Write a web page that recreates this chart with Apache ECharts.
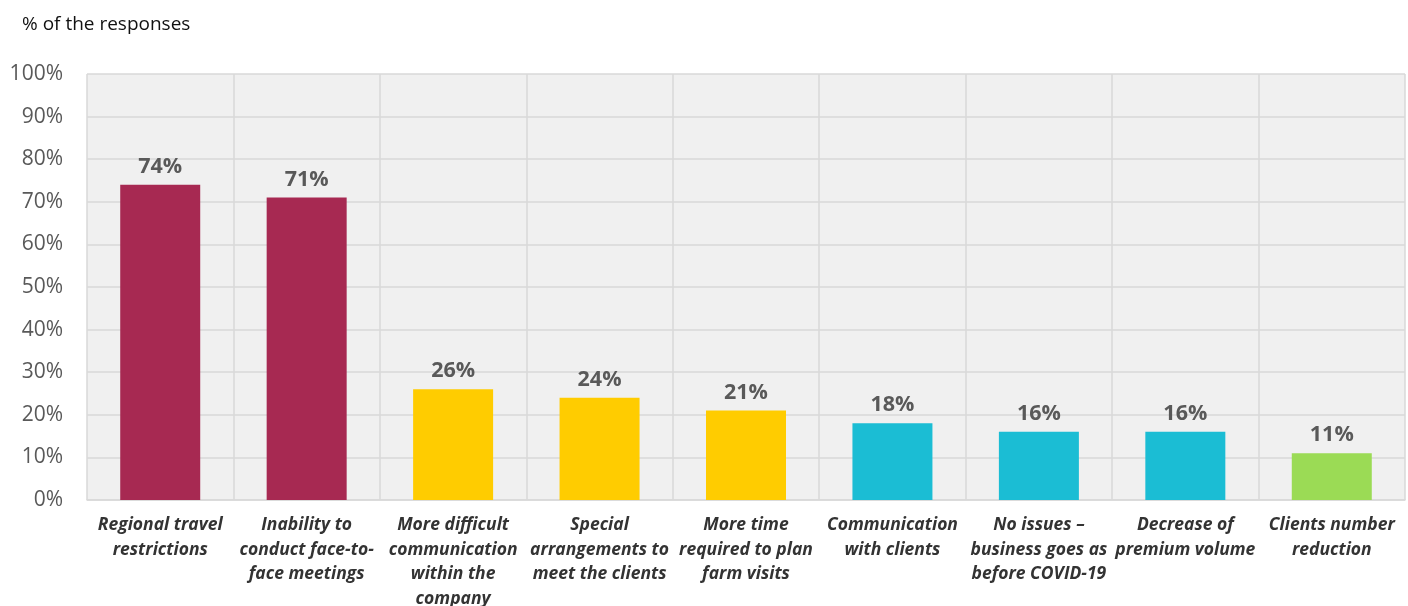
<!DOCTYPE html>
<html>
<head>
<meta charset="utf-8">
<script src="https://cdn.jsdelivr.net/npm/echarts@6/dist/echarts.min.js"></script>
<style>html,body{margin:0;padding:0;background:#fff;}#c{width:1408px;height:606px;}</style>
</head>
<body>
<div id="c"></div>
<script>
const categories = [
  "Regional travel\nrestrictions",
  "Inability to\nconduct face-to-\nface meetings",
  "More difficult\ncommunication\nwithin the\ncompany",
  "Special\narrangements to\nmeet the clients",
  "More time\nrequired to plan\nfarm visits",
  "Communication\nwith clients",
  "No issues –\nbusiness goes as\nbefore COVID-19",
  "Decrease of\npremium volume",
  "Clients number\nreduction"
];
const values = [74, 71, 26, 24, 21, 18, 16, 16, 11];
const barColors = ["#A72952", "#A72952", "#FFCC00", "#FFCC00", "#FFCC00", "#1BBDD4", "#1BBDD4", "#1BBDD4", "#9BDB55"];
const yTicks = [0, 10, 20, 30, 40, 50, 60, 70, 80, 90, 100];

const chart = echarts.init(document.getElementById('c'));
chart.setOption({
  animation: false,
  backgroundColor: '#fff',
  title: {
    text: '% of the responses',
    left: 17, top: 10,
    textStyle: { fontFamily: 'Open Sans', fontSize: 19, fontWeight: 'normal', color: '#111' }
  },
  grid: {
    left: 87, right: 3, top: 74, bottom: 106,
    outerBoundsMode: 'none', containLabel: false,
    show: true, backgroundColor: '#f0f0f0', borderWidth: 0
  },
  xAxis: {
    type: 'category',
    data: categories,
    axisTick: { show: false },
    axisLine: { show: true, lineStyle: { color: '#d9d9d9', width: 1.5 } },
    splitLine: { show: true, lineStyle: { color: '#d9d9d9', width: 1.5 } },
    axisLabel: {
      interval: 0, margin: 13,
      fontFamily: 'Open Sans', fontSize: 17.5, fontWeight: 'bold', fontStyle: 'italic',
      color: '#333', lineHeight: 24.5
    }
  },
  yAxis: {
    type: 'value', min: 0, max: 100, interval: 10,
    axisLine: { show: false }, axisTick: { show: false },
    splitLine: { show: true, lineStyle: { color: '#d9d9d9', width: 1.5 } },
    axisLabel: {
      margin: 24,
      fontFamily: 'Open Sans', fontSize: 21, color: '#595959',
      formatter: v => yTicks.includes(v) ? v + '%' : ''
    }
  },
  series: [{
    type: 'bar',
    data: values.map((v, i) => ({ value: v, itemStyle: { color: barColors[i] } })),
    barWidth: 80,
    label: {
      show: true, position: 'top', distance: 7,
      formatter: '{c}%',
      fontFamily: 'Open Sans', fontSize: 21.5, fontWeight: 'bold', color: '#595959'
    }
  }]
});
</script>
</body>
</html>
